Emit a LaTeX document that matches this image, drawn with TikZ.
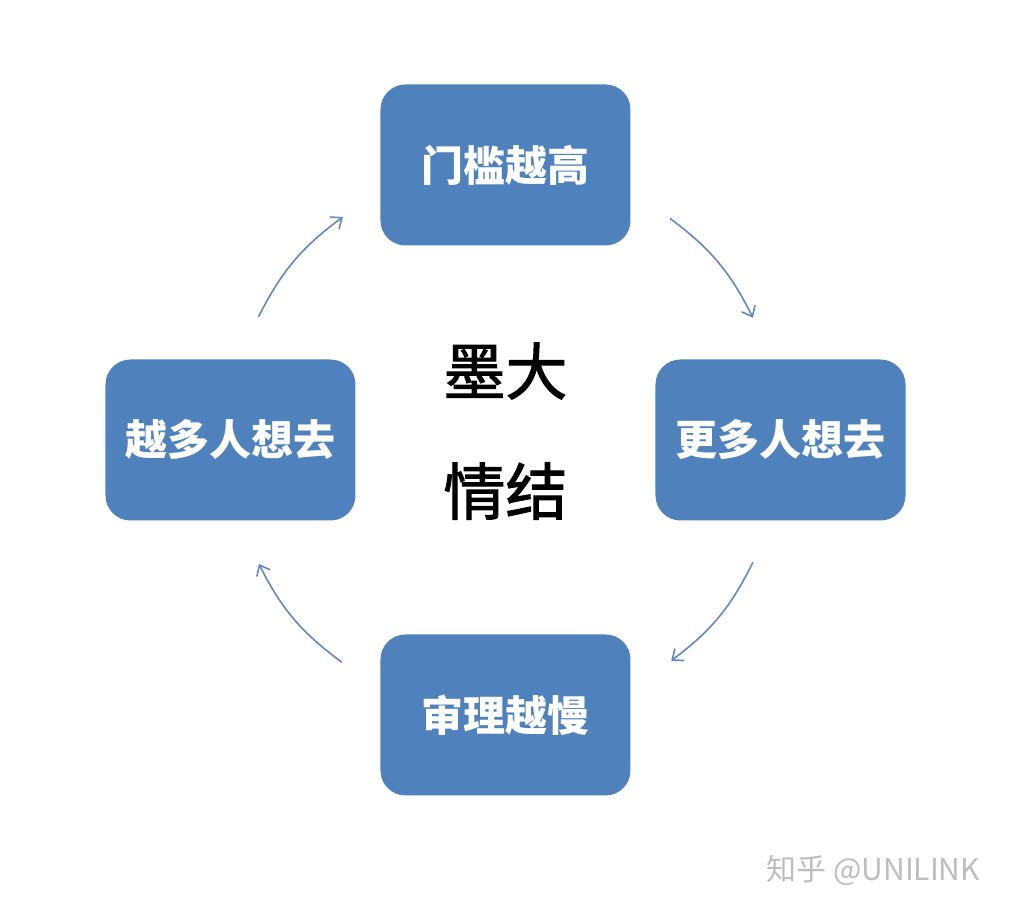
\documentclass[tikz,border=0pt]{standalone}
\usepackage{fontspec}
\usepackage{tikz}
\usetikzlibrary{arrows.meta}
\newfontfamily\cjk{Noto Sans CJK SC}
\newfontfamily\cjkmid[FakeBold=1.6]{Noto Sans CJK SC}
\definecolor{boxblue}{HTML}{4F81BD}
\definecolor{arcblue}{HTML}{6389C4}
\definecolor{markgray}{HTML}{BDBDBD}

\begin{document}
\begin{tikzpicture}[x=1pt,y=1pt]
              \tikzstyle{every node}+=[inner sep=0pt]
              \tikzstyle{stage}=[fill=boxblue, rounded corners=25pt, minimum width=250pt, minimum height=161pt, text=white, font=\cjk\bfseries\fontsize{42}{50}\selectfont]
              \tikzstyle{cycle}=[arcblue, line width=1.6pt, -{Straight Barb[length=9pt,width=15pt]}]
              \useasboundingbox (-505.5,-469) rectangle (504.5,440);
              \node [stage] (gate) at (0,275) {门槛越高};
              \node [stage] (more) at (275,0) {更多人想去};
              \node [stage] (slow) at (0,-275) {审理越慢};
              \node [stage] (want) at (-275,0) {越多人想去};
              \node [font=\cjkmid\fontsize{62}{70}\selectfont] (mo) at (0,69) {墨大};
              \node [font=\cjkmid\fontsize{62}{70}\selectfont] (qing) at (0,-51) {情结};
              \coordinate (a1) at (53.4:276);
              \coordinate (a2) at (26.3:276);
              \coordinate (b1) at (-26.3:276);
              \coordinate (b2) at (-53.1:276);
              \coordinate (c1) at (-126.4:276);
              \coordinate (c2) at (-153.3:276);
              \coordinate (d1) at (153.5:276);
              \coordinate (d2) at (126.1:276);
              \draw [cycle] (a1) to [bend left=13.5] (a2);
              \draw [cycle] (b1) to [bend left=13.5] (b2);
              \draw [cycle] (c1) to [bend left=13.5] (c2);
              \draw [cycle] (d1) to [bend left=13.5] (d2);
              \node [anchor=west, text=markgray, font=\cjk\fontsize{30}{32}\selectfont] (mark) at (261,-430) {知乎 @UNILINK};
\end{tikzpicture}
\end{document}
